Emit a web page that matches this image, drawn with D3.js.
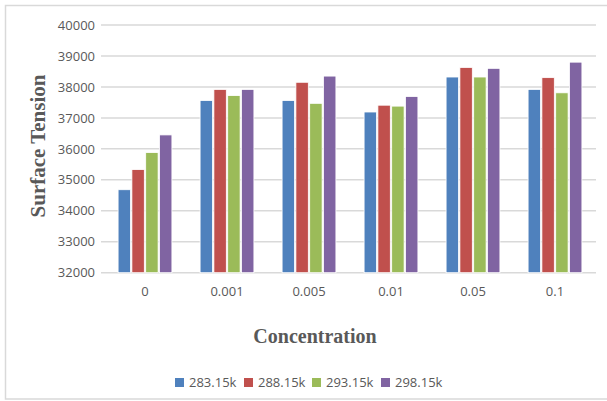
<!DOCTYPE html>
<html>
<head>
<meta charset="utf-8">
<script src="https://cdn.jsdelivr.net/npm/d3@7"></script>
<style>
  html, body { margin: 0; padding: 0; background: #fff; }
  svg { display: block; }
</style>
</head>
<body>
<svg id="chart" width="607" height="401"></svg>
<script>
// Concentration categories along the x axis
const categories = ["0", "0.001", "0.005", "0.01", "0.05", "0.1"];
// Temperature series
const seriesNames = ["283.15k", "288.15k", "293.15k", "298.15k"];
const seriesColors = ["#4f81bd", "#c0504d", "#9bbb59", "#8064a2"];
// Surface tension values per series, one per concentration
const s283 = [34680, 37560, 37560, 37190, 38320, 37920];
const s288 = [35330, 37920, 38150, 37410, 38630, 38300];
const s293 = [35880, 37720, 37470, 37380, 38320, 37810];
const s298 = [36450, 37920, 38350, 37690, 38600, 38800];
const seriesValues = [s283, s288, s293, s298];
// Y axis ticks
const yTicks = [32000, 33000, 34000, 35000, 36000, 37000, 38000, 39000, 40000];

const svg = d3.select("#chart");
const W = 607, H = 401;

// outer chart frame
svg.append("rect")
  .attr("x", 5.5).attr("y", 5.5)
  .attr("width", W + 10).attr("height", 393.5)
  .attr("fill", "#fff").attr("stroke", "#d9d9d9").attr("stroke-width", 1.5);

const plot = { left: 104, right: 596, top: 25, bottom: 272.7 };

const x0 = d3.scaleBand().domain(categories)
  .range([plot.left, plot.right]).paddingInner(0.31).paddingOuter(0.155);
const x1 = d3.scaleBand().domain(seriesNames)
  .range([0, x0.bandwidth()]).padding(0.1);
const y = d3.scaleLinear().domain([32000, 40000]).range([plot.bottom, plot.top]);

// horizontal gridlines
svg.append("g").selectAll("line").data(yTicks).join("line")
  .attr("x1", plot.left - 3).attr("x2", plot.right)
  .attr("y1", d => y(d)).attr("y2", d => y(d))
  .attr("stroke", "#d9d9d9").attr("stroke-width", 1.5);

// y axis tick labels
const yAxis = d3.axisLeft(y).tickValues(yTicks).tickSize(0).tickPadding(0)
  .tickFormat(d3.format("d"));
const gy = svg.append("g").attr("transform", `translate(${95},0)`).call(yAxis);
gy.select(".domain").remove();
gy.selectAll("text")
  .attr("fill", "#595959").attr("font-size", 13)
  .attr("font-family", "'Open Sans', 'Noto Sans', sans-serif");

// bars
const groups = svg.append("g").selectAll("g").data(categories).join("g")
  .attr("transform", d => `translate(${x0(d)},0)`);
groups.selectAll("rect")
  .data((c, ci) => seriesNames.map((s, si) => ({ s, si, v: seriesValues[si][ci] })))
  .join("rect")
  .attr("x", d => x1(d.s))
  .attr("y", d => y(d.v))
  .attr("width", x1.bandwidth())
  .attr("height", d => y(32000) - y(d.v))
  .attr("fill", d => seriesColors[d.si])
  .attr("stroke", "#fff").attr("stroke-width", 0.8);

// x axis category labels
const xAxis = d3.axisBottom(x0).tickSize(0).tickPadding(0);
const gx = svg.append("g").attr("transform", `translate(0,${287})`).call(xAxis);
gx.select(".domain").remove();
gx.selectAll("text")
  .attr("fill", "#595959").attr("font-size", 13)
  .attr("font-family", "'Open Sans', 'Noto Sans', sans-serif");

// axis titles
svg.append("text")
  .attr("transform", `translate(45,146) rotate(-90)`)
  .attr("text-anchor", "middle")
  .attr("font-family", "'Liberation Serif', 'Times New Roman', serif")
  .attr("font-weight", "bold").attr("font-size", 21)
  .attr("fill", "#595959")
  .text("Surface Tension");

svg.append("text")
  .attr("x", 315).attr("y", 343)
  .attr("text-anchor", "middle")
  .attr("font-family", "'Liberation Serif', 'Times New Roman', serif")
  .attr("font-weight", "bold").attr("font-size", 20)
  .attr("fill", "#595959")
  .text("Concentration");

// legend
const legendX = [175, 244, 312, 381];
const legend = svg.append("g").selectAll("g").data(seriesNames).join("g")
  .attr("transform", (d, i) => `translate(${legendX[i]},${378})`);
legend.append("rect")
  .attr("width", 9).attr("height", 9)
  .attr("fill", (d, i) => seriesColors[i]);
legend.append("text")
  .attr("x", 14).attr("y", 9)
  .attr("fill", "#595959").attr("font-size", 13)
  .attr("font-family", "'Open Sans', 'Noto Sans', sans-serif")
  .text(d => d);
</script>
</body>
</html>
